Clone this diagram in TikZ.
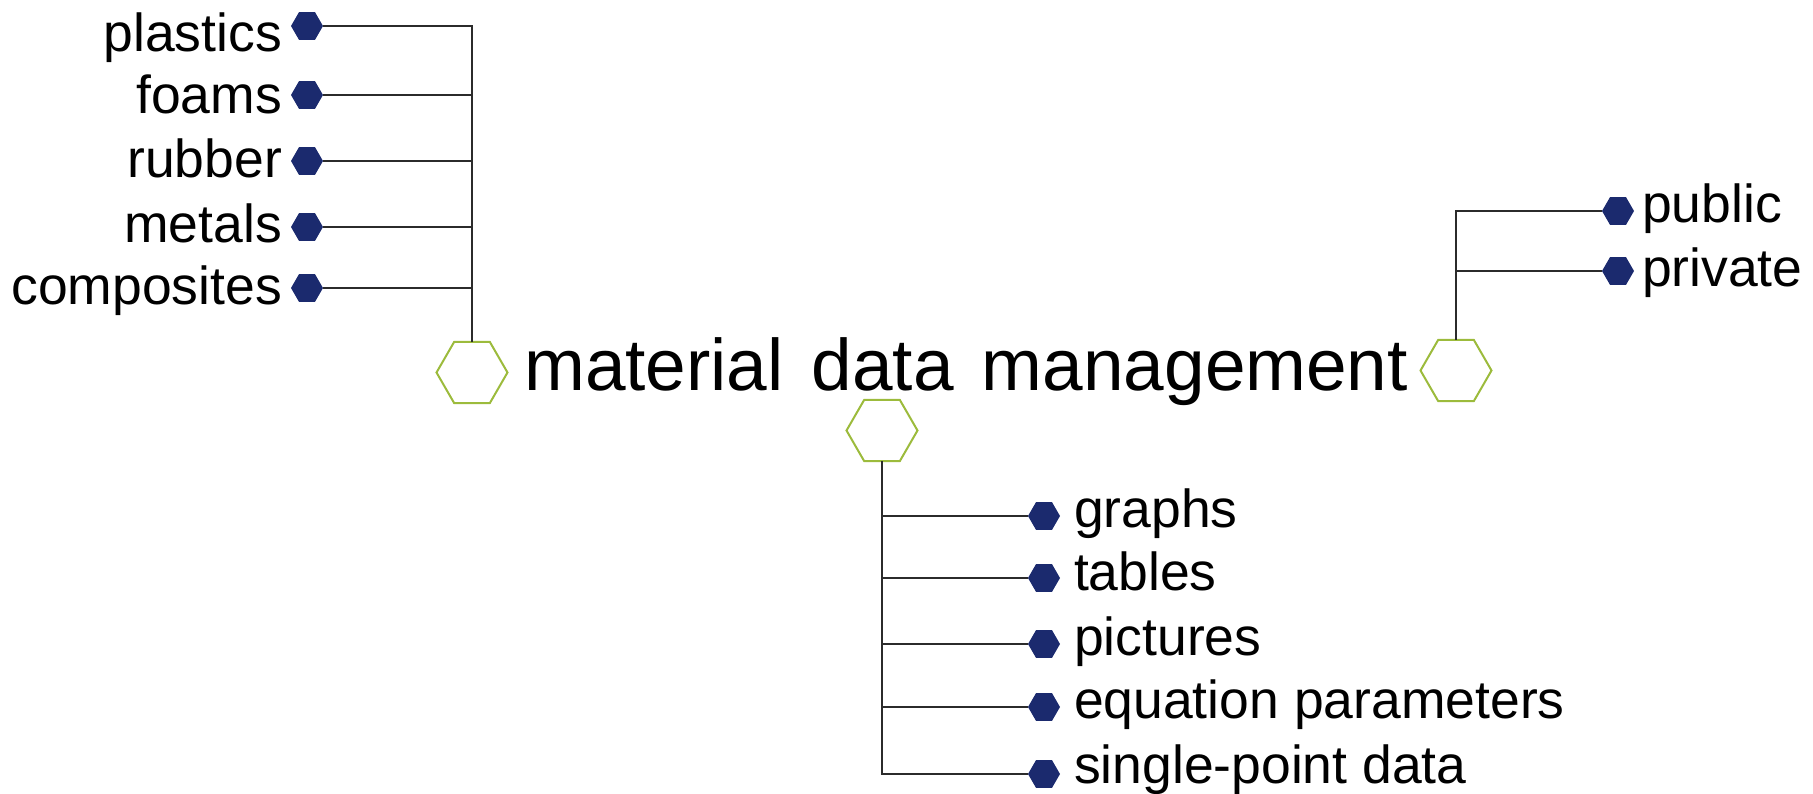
\documentclass[tikz,border=0pt]{standalone}
\usepackage{fontspec}
\setmainfont{Liberation Sans}
\usetikzlibrary{shapes.geometric}
\definecolor{hexgreen}{HTML}{9CBB3C}
\definecolor{dotnavy}{HTML}{1B2A6E}
\definecolor{wiregray}{HTML}{2B2B2B}
\newcommand\widespaces{\spaceskip=28pt\relax}
\begin{document}
\begin{tikzpicture}[x=1pt,y=-1pt,
  hub/.style={regular polygon, regular polygon sides=6, minimum size=71pt,
    inner sep=0pt, outer sep=0pt, draw=hexgreen, line width=2pt},
  leaf/.style={regular polygon, regular polygon sides=6, minimum size=32pt,
    inner sep=0pt, outer sep=0pt, fill=dotnavy},
  lbl/.style={font=\fontsize{53.5}{60}\selectfont, inner sep=0pt, outer sep=0pt},
  wire/.style={draw=wiregray, line width=1.6pt},
]
\useasboundingbox (0,0) rectangle (1813,794);

% central title
\node[anchor=base west, inner sep=0pt, font=\fontsize{73}{80}\selectfont]
  (title) at (524,390) {\widespaces material data management};

% hub hexagons
\node[hub] (lh) at (472,372.5) {};
\node[hub] (mh) at (882,430.5) {};
\node[hub] (rh) at (1456,370.5) {};

% left branch: material classes
\node[leaf] (l1) at (307,26) {};
\node[leaf] (l2) at (307,95) {};
\node[leaf] (l3) at (307,161) {};
\node[leaf] (l4) at (307,227) {};
\node[leaf] (l5) at (307,288) {};
\node[lbl, anchor=base east] (t1) at (282,52) {plastics};
\node[lbl, anchor=base east] (t2) at (282,114) {foams};
\node[lbl, anchor=base east] (t3) at (282,178) {rubber};
\node[lbl, anchor=base east] (t4) at (282,243) {metals};
\node[lbl, anchor=base east] (t5) at (282,305) {composites};
\draw[wire] (lh) |- (l1);
\foreach \n in {l2,l3,l4,l5} \draw[wire] (\n -| lh) -- (\n);

% right branch: access
\node[leaf] (r1) at (1618,211) {};
\node[leaf] (r2) at (1618,271) {};
\node[lbl, anchor=base west] (s1) at (1642,223) {public};
\node[lbl, anchor=base west] (s2) at (1642,287) {private};
\draw[wire] (rh) |- (r1);
\draw[wire] (r2 -| rh) -- (r2);

% bottom branch: data types
\node[leaf] (b1) at (1044,516) {};
\node[leaf] (b2) at (1044,578) {};
\node[leaf] (b3) at (1044,644) {};
\node[leaf] (b4) at (1044,707) {};
\node[leaf] (b5) at (1044,774) {};
\node[lbl, anchor=base west] (u1) at (1074,527) {graphs};
\node[lbl, anchor=base west] (u2) at (1074,590) {tables};
\node[lbl, anchor=base west] (u3) at (1074,655) {pictures};
\node[lbl, anchor=base west] (u4) at (1074,718) {equation parameters};
\node[lbl, anchor=base west] (u5) at (1074,783) {single-point data};
\draw[wire] (mh) |- (b5);
\foreach \n in {b1,b2,b3,b4} \draw[wire] (\n -| mh) -- (\n);
\end{tikzpicture}
\end{document}
